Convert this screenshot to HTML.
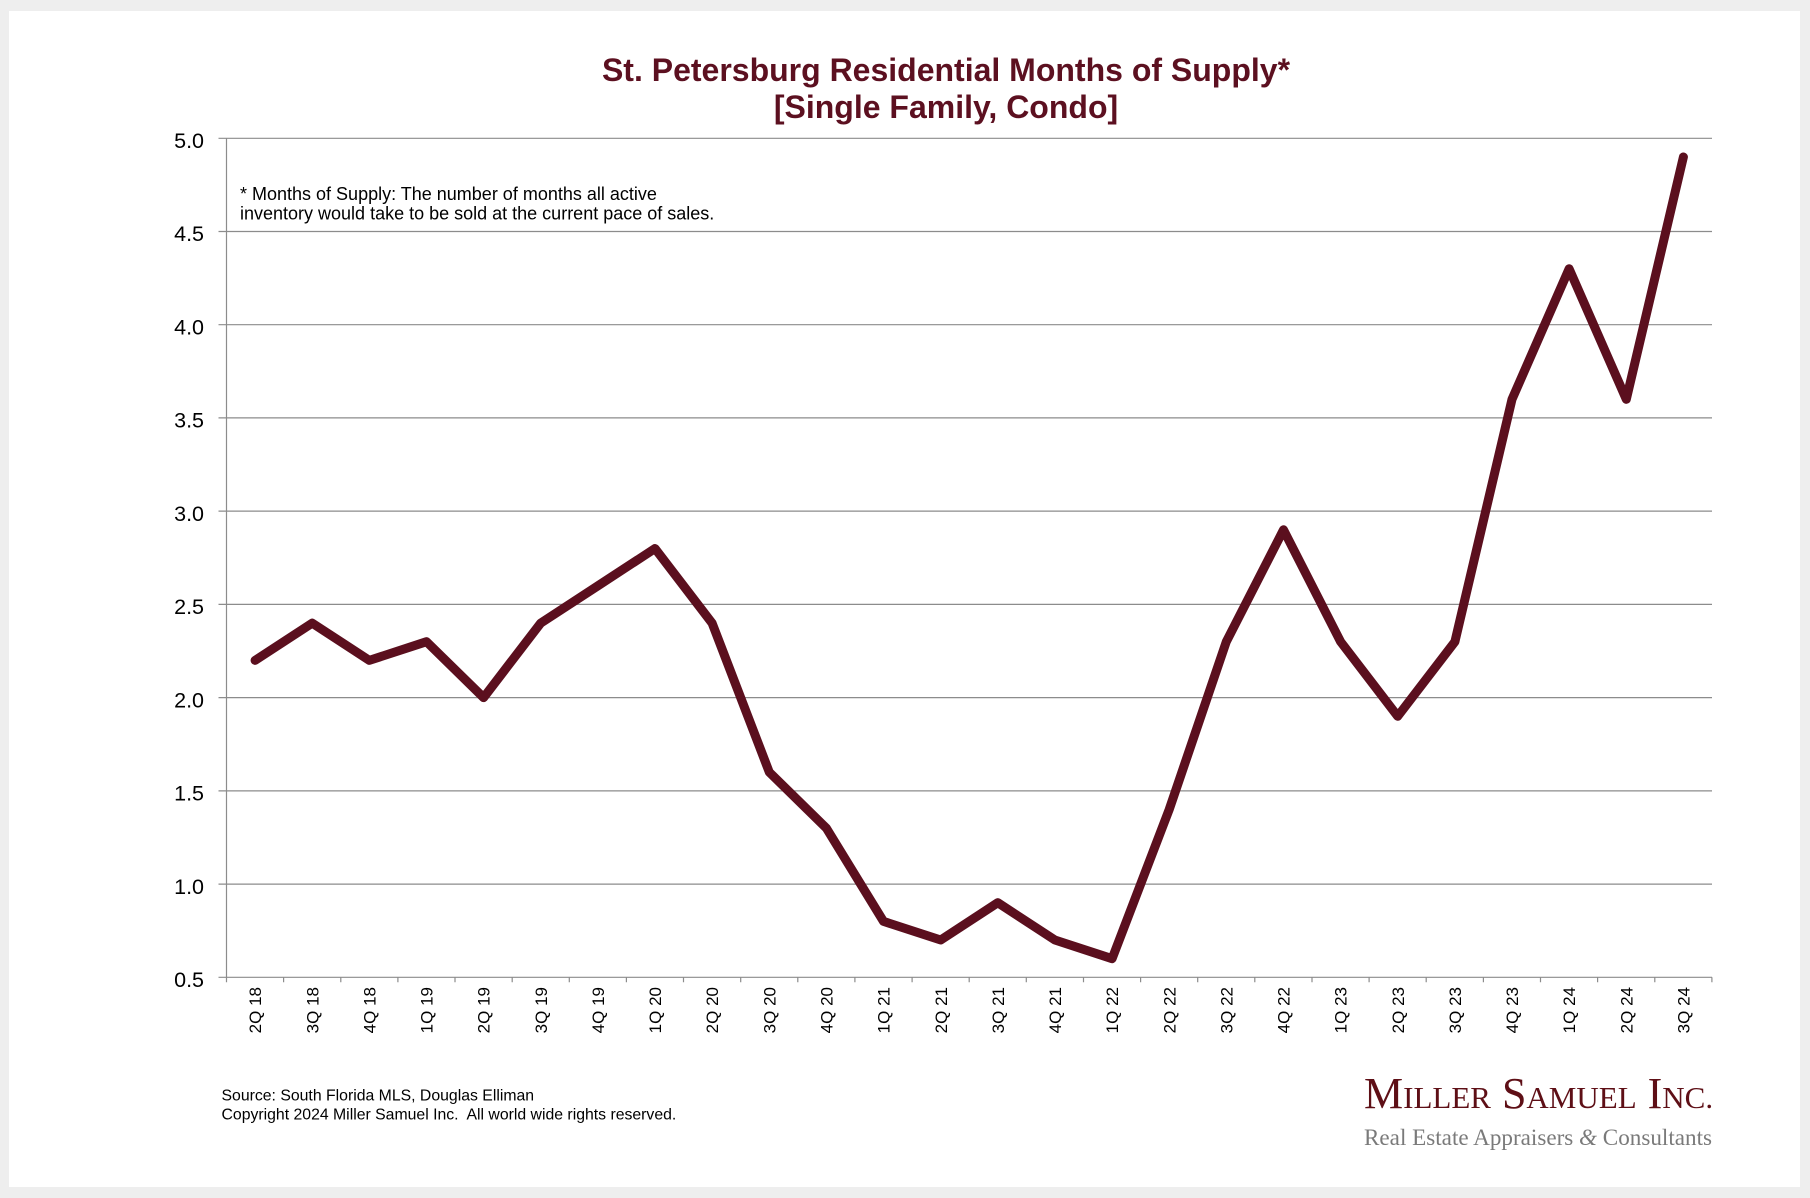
<!DOCTYPE html>
<html>
<head>
<meta charset="utf-8">
<style>
  html, body { margin: 0; padding: 0; background: #eeeeee; }
  body { width: 1810px; height: 1198px; overflow: hidden; }
  svg { display: block; }
</style>
</head>
<body>
<svg width="1810" height="1198" viewBox="0 0 1810 1198" xmlns="http://www.w3.org/2000/svg">
  <rect x="0" y="0" width="1810" height="1198" fill="#eeeeee"/>
  <rect x="9" y="11" width="1791" height="1176" fill="#ffffff"/>

  <!-- Title -->
  <g font-family="'Liberation Sans', Arial, sans-serif" font-weight="bold" font-size="32" fill="#5c1020" text-anchor="middle">
    <text x="946" y="81">St. Petersburg Residential Months of Supply*</text>
    <text x="946" y="118">[Single Family, Condo]</text>
  </g>

  <!-- Gridlines -->
  <g stroke="#8c8c8c" stroke-width="1.2" fill="none">
    <line x1="218.5" y1="138.3" x2="1712" y2="138.3"/>
    <line x1="218.5" y1="231.5" x2="1712" y2="231.5"/>
    <line x1="218.5" y1="324.7" x2="1712" y2="324.7"/>
    <line x1="218.5" y1="417.9" x2="1712" y2="417.9"/>
    <line x1="218.5" y1="511.1" x2="1712" y2="511.1"/>
    <line x1="218.5" y1="604.4" x2="1712" y2="604.4"/>
    <line x1="218.5" y1="697.6" x2="1712" y2="697.6"/>
    <line x1="218.5" y1="790.9" x2="1712" y2="790.9"/>
    <line x1="218.5" y1="884.1" x2="1712" y2="884.1"/>
    <line x1="218.5" y1="977.3" x2="1712" y2="977.3"/>
    <!-- y axis -->
    <line x1="226.5" y1="138.3" x2="226.5" y2="977.3"/>
    <!-- x ticks -->
    <path d="M226.5 977.3v5 M283.6 977.3v5 M340.8 977.3v5 M397.9 977.3v5 M455.0 977.3v5 M512.2 977.3v5 M569.3 977.3v5 M626.4 977.3v5 M683.5 977.3v5 M740.7 977.3v5 M797.8 977.3v5 M854.9 977.3v5 M912.1 977.3v5 M969.2 977.3v5 M1026.3 977.3v5 M1083.5 977.3v5 M1140.6 977.3v5 M1197.7 977.3v5 M1254.8 977.3v5 M1312.0 977.3v5 M1369.1 977.3v5 M1426.2 977.3v5 M1483.4 977.3v5 M1540.5 977.3v5 M1597.6 977.3v5 M1654.8 977.3v5 M1711.9 977.3v5"/>
  </g>

  <!-- Y labels -->
  <g font-family="'Liberation Sans', Arial, sans-serif" font-size="21.5" fill="#000" text-anchor="end">
    <text x="204" y="148">5.0</text>
    <text x="204" y="241.2">4.5</text>
    <text x="204" y="334.4">4.0</text>
    <text x="204" y="427.6">3.5</text>
    <text x="204" y="520.8">3.0</text>
    <text x="204" y="614.1">2.5</text>
    <text x="204" y="707.3">2.0</text>
    <text x="204" y="800.6">1.5</text>
    <text x="204" y="893.8">1.0</text>
    <text x="204" y="987">0.5</text>
  </g>

  <!-- X labels (rotated) -->
  <g font-family="'Liberation Sans', Arial, sans-serif" font-size="17" fill="#000" text-anchor="end">
    <text transform="translate(261.2,987) rotate(-90)">2Q 18</text>
    <text transform="translate(318.3,987) rotate(-90)">3Q 18</text>
    <text transform="translate(375.4,987) rotate(-90)">4Q 18</text>
    <text transform="translate(432.6,987) rotate(-90)">1Q 19</text>
    <text transform="translate(489.7,987) rotate(-90)">2Q 19</text>
    <text transform="translate(546.8,987) rotate(-90)">3Q 19</text>
    <text transform="translate(604.0,987) rotate(-90)">4Q 19</text>
    <text transform="translate(661.1,987) rotate(-90)">1Q 20</text>
    <text transform="translate(718.2,987) rotate(-90)">2Q 20</text>
    <text transform="translate(775.4,987) rotate(-90)">3Q 20</text>
    <text transform="translate(832.5,987) rotate(-90)">4Q 20</text>
    <text transform="translate(889.6,987) rotate(-90)">1Q 21</text>
    <text transform="translate(946.8,987) rotate(-90)">2Q 21</text>
    <text transform="translate(1003.9,987) rotate(-90)">3Q 21</text>
    <text transform="translate(1061.0,987) rotate(-90)">4Q 21</text>
    <text transform="translate(1118.2,987) rotate(-90)">1Q 22</text>
    <text transform="translate(1175.3,987) rotate(-90)">2Q 22</text>
    <text transform="translate(1232.4,987) rotate(-90)">3Q 22</text>
    <text transform="translate(1289.6,987) rotate(-90)">4Q 22</text>
    <text transform="translate(1346.7,987) rotate(-90)">1Q 23</text>
    <text transform="translate(1403.8,987) rotate(-90)">2Q 23</text>
    <text transform="translate(1461.0,987) rotate(-90)">3Q 23</text>
    <text transform="translate(1518.1,987) rotate(-90)">4Q 23</text>
    <text transform="translate(1575.2,987) rotate(-90)">1Q 24</text>
    <text transform="translate(1632.4,987) rotate(-90)">2Q 24</text>
    <text transform="translate(1689.5,987) rotate(-90)">3Q 24</text>
  </g>

  <!-- Footnote -->
  <g font-family="'Liberation Sans', Arial, sans-serif" font-size="18" fill="#000">
    <text x="240" y="200">* Months of Supply: The number of months all active</text>
    <text x="240" y="219.5">inventory would take to be sold at the current pace of sales.</text>
  </g>

  <!-- Data line -->
  <polyline fill="none" stroke="#5b0f1e" stroke-width="9" stroke-linejoin="round" stroke-linecap="round"
    points="255.1,660.4 312.2,623.1 369.3,660.4 426.5,641.7 483.6,697.6 540.7,623.1 597.9,585.8 655.0,548.5 712.1,623.1 769.3,772.2 826.4,828.2 883.5,921.4 940.7,940.0 997.8,902.7 1054.9,940.0 1112.1,958.7 1169.2,809.5 1226.3,641.7 1283.5,529.8 1340.6,641.7 1397.7,716.3 1454.9,641.7 1512.0,399.3 1569.1,268.8 1626.3,399.3 1683.4,157.0"/>

  <!-- Source -->
  <g font-family="'Liberation Sans', Arial, sans-serif" font-size="15.8" fill="#000">
    <text x="221.5" y="1100.5">Source: South Florida MLS, Douglas Elliman</text>
    <text x="221.5" y="1119.5" xml:space="preserve">Copyright 2024 Miller Samuel Inc.  All world wide rights reserved.</text>
  </g>

  <!-- Logo -->
  <text x="1364" y="1108" font-family="'Liberation Serif', 'Times New Roman', serif" fill="#5e0f16"><tspan font-size="44">M</tspan><tspan font-size="31">ILLER</tspan><tspan font-size="44"> S</tspan><tspan font-size="31">AMUEL</tspan><tspan font-size="44"> I</tspan><tspan font-size="31">NC.</tspan></text>
  <text x="1364" y="1145" font-family="'Liberation Serif', 'Times New Roman', serif" font-size="23" fill="#7a7a7a" textLength="348" lengthAdjust="spacingAndGlyphs">Real Estate Appraisers <tspan font-style="italic">&amp;</tspan> Consultants</text>
</svg>
</body>
</html>
